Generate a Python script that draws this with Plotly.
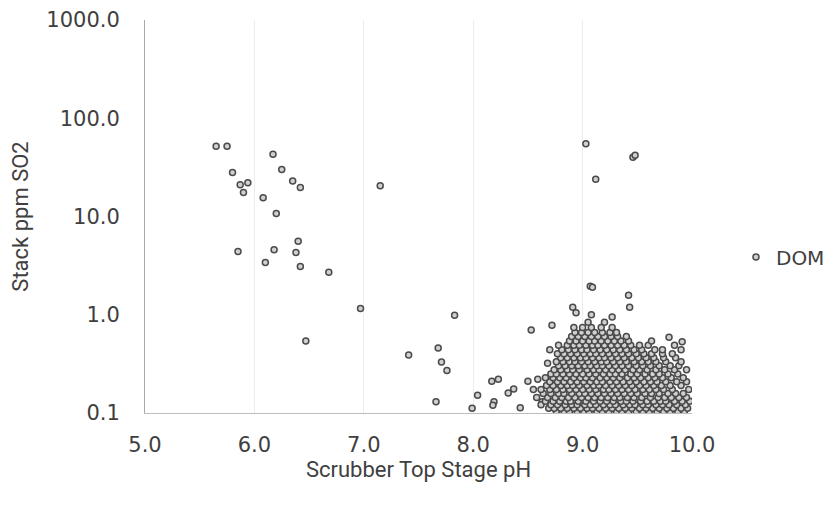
import plotly.graph_objects as go

# Isolated points (pH, ppm SO2)
outlier_ph = [5.65, 5.75, 6.17, 5.80, 6.25, 5.87, 5.94, 5.90, 6.35, 6.42, 6.08, 6.20, 7.15,
              6.40, 5.85, 6.18, 6.38, 6.10, 6.42, 6.68, 6.97, 6.47, 7.41, 7.83, 7.68, 7.71,
              7.76, 7.66, 7.99, 8.04, 8.17, 8.23, 8.19, 8.18, 8.32, 8.37, 8.43, 8.53, 8.50,
              8.59, 9.03, 9.12, 9.46, 9.48, 9.07, 9.09, 9.42, 9.43, 8.91, 8.94, 9.08, 9.27,
              8.72, 8.68, 9.79, 9.91, 8.63]
outlier_so2 = [52, 52, 43, 28, 30, 21, 22, 17.5, 23, 19.7, 15.5, 10.7, 20.6,
               5.6, 4.4, 4.6, 4.3, 3.4, 3.1, 2.7, 1.16, 0.54, 0.39, 0.99, 0.46, 0.33,
               0.27, 0.13, 0.112, 0.152, 0.21, 0.22, 0.13, 0.12, 0.16, 0.175, 0.113, 0.70, 0.21,
               0.22, 55, 24, 40, 42, 1.95, 1.9, 1.58, 1.19, 1.19, 1.05, 1.0, 0.95,
               0.78, 0.32, 0.59, 0.53, 0.13]

# Dense cluster, estimated row by row: (ppm SO2, list of pH values)
cluster_rows = [
    (0.104, [8.76, 8.83, 8.88, 8.95, 9.01, 9.06, 9.13, 9.18, 9.24, 9.31, 9.36, 9.42, 9.49, 9.55, 9.61, 9.68, 9.74, 9.80, 9.87, 9.93]),
    (0.112, [8.69, 8.74, 8.80, 8.86, 8.92, 8.98, 9.04, 9.09, 9.15, 9.21, 9.27, 9.33, 9.39, 9.45, 9.52, 9.58, 9.64, 9.70, 9.77, 9.83, 9.90, 9.96]),
    (0.121, [8.62, 8.71, 8.77, 8.84, 8.90, 8.95, 9.02, 9.07, 9.12, 9.19, 9.25, 9.30, 9.37, 9.43, 9.48, 9.55, 9.60, 9.67, 9.73, 9.79, 9.86, 9.94]),
    (0.132, [8.66, 8.73, 8.79, 8.85, 8.89, 8.96, 9.03, 9.10, 9.16, 9.22, 9.28, 9.35, 9.40, 9.46, 9.53, 9.59, 9.65, 9.71, 9.76, 9.84, 9.91, 9.98]),
    (0.144, [8.58, 8.68, 8.75, 8.81, 8.87, 8.93, 8.99, 9.05, 9.11, 9.17, 9.23, 9.29, 9.34, 9.41, 9.47, 9.54, 9.62, 9.69, 9.75, 9.81, 9.88, 9.95]),
    (0.158, [8.64, 8.71, 8.78, 8.83, 8.90, 8.97, 9.02, 9.08, 9.14, 9.20, 9.26, 9.32, 9.38, 9.44, 9.50, 9.57, 9.63, 9.70, 9.78, 9.85, 9.92]),
    (0.173, [8.55, 8.62, 8.70, 8.76, 8.82, 8.88, 8.94, 9.00, 9.06, 9.12, 9.19, 9.24, 9.30, 9.36, 9.42, 9.48, 9.55, 9.61, 9.67, 9.74, 9.82, 9.97]),
    (0.190, [8.67, 8.73, 8.80, 8.86, 8.91, 8.97, 9.04, 9.10, 9.15, 9.21, 9.27, 9.33, 9.39, 9.45, 9.52, 9.58, 9.65, 9.72, 9.80, 9.90]),
    (0.208, [8.70, 8.77, 8.83, 8.89, 8.95, 9.01, 9.07, 9.13, 9.18, 9.25, 9.31, 9.37, 9.43, 9.49, 9.56, 9.62, 9.68, 9.76, 9.86, 9.95]),
    (0.228, [8.66, 8.73, 8.79, 8.85, 8.92, 8.98, 9.03, 9.09, 9.16, 9.22, 9.28, 9.34, 9.41, 9.47, 9.53, 9.60, 9.66, 9.73, 9.81, 9.92]),
    (0.250, [8.71, 8.76, 8.82, 8.88, 8.94, 9.00, 9.06, 9.12, 9.19, 9.25, 9.30, 9.36, 9.44, 9.50, 9.57, 9.64, 9.70, 9.78, 9.87]),
    (0.275, [8.74, 8.80, 8.86, 8.91, 8.97, 9.04, 9.10, 9.15, 9.21, 9.27, 9.33, 9.39, 9.46, 9.52, 9.59, 9.67, 9.75, 9.84, 9.95]),
    (0.302, [8.78, 8.84, 8.90, 8.96, 9.02, 9.07, 9.13, 9.18, 9.24, 9.30, 9.36, 9.42, 9.49, 9.55, 9.62, 9.70, 9.80, 9.88]),
    (0.333, [8.76, 8.82, 8.88, 8.93, 8.99, 9.05, 9.11, 9.17, 9.22, 9.28, 9.34, 9.40, 9.47, 9.54, 9.60, 9.67, 9.76, 9.90]),
    (0.366, [8.80, 8.86, 8.92, 8.98, 9.03, 9.09, 9.15, 9.20, 9.26, 9.32, 9.38, 9.45, 9.51, 9.58, 9.65, 9.74, 9.85]),
    (0.400, [8.77, 8.83, 8.89, 8.95, 9.01, 9.07, 9.12, 9.18, 9.24, 9.30, 9.36, 9.42, 9.49, 9.56, 9.63, 9.73, 9.82]),
    (0.440, [8.70, 8.81, 8.87, 8.93, 8.99, 9.04, 9.10, 9.16, 9.22, 9.28, 9.34, 9.40, 9.47, 9.54, 9.66, 9.73, 9.90]),
    (0.490, [8.78, 8.86, 8.92, 8.97, 9.03, 9.09, 9.14, 9.20, 9.26, 9.32, 9.38, 9.44, 9.52, 9.60, 9.84]),
    (0.540, [8.88, 8.94, 9.00, 9.06, 9.11, 9.17, 9.23, 9.29, 9.35, 9.42, 9.63]),
    (0.600, [8.90, 8.96, 9.02, 9.08, 9.14, 9.20, 9.26, 9.32, 9.40]),
    (0.660, [8.93, 8.99, 9.05, 9.11, 9.18, 9.25, 9.31]),
    (0.740, [8.92, 9.00, 9.08, 9.17, 9.27]),
    (0.840, [9.05, 9.20]),
]

x_ticks = [5, 6, 7, 8, 9, 10]
x_tick_labels = ["5.0", "6.0", "7.0", "8.0", "9.0", "10.0"]
y_ticks = [0.1, 1, 10, 100, 1000]
y_tick_labels = ["0.1", "1.0", "10.0", "100.0", "1000.0"]

xs = list(outlier_ph)
ys = list(outlier_so2)
for yv, row in cluster_rows:
    xs.extend(row)
    ys.extend([yv] * len(row))

fig = go.Figure()
fig.add_trace(go.Scatter(
    x=xs, y=ys, mode="markers", name="DOM",
    marker=dict(symbol="circle", size=6, color="#d0d0d0",
                line=dict(color="#4a4a4a", width=1.5)),
))

tick_font = dict(family="DejaVu Sans, sans-serif", size=21, color="#404040")
title_font = dict(family="Roboto, sans-serif", size=22, color="#404040")

fig.update_layout(
    width=821, height=491,
    margin=dict(l=137, r=137, t=12, b=86),
    paper_bgcolor="white", plot_bgcolor="white",
    font=dict(family="Roboto, sans-serif", color="#404040", size=16),
    showlegend=True,
    legend=dict(xref="container", yref="container", x=0.8867, y=0.493,
                xanchor="left", yanchor="middle",
                font=dict(size=20, color="#404040", family="DejaVu Sans, sans-serif"),
                bgcolor="rgba(0,0,0,0)", itemwidth=30),
    xaxis=dict(range=[5, 10], tickvals=x_ticks, ticktext=x_tick_labels,
               showgrid=True, gridcolor="#ededed", gridwidth=1,
               showline=True, linecolor="#bdbdbd", linewidth=1, zeroline=False,
               ticks="", ticklabelstandoff=13, automargin=False,
               tickfont=tick_font,
               title=dict(text="Scrubber Top Stage pH", font=title_font, standoff=4)),
    yaxis=dict(type="log", range=[-1, 3], tickvals=y_ticks, ticktext=y_tick_labels,
               showgrid=False, showline=True, linecolor="#a8a8a8", linewidth=1,
               zeroline=False, ticks="", ticklabelstandoff=20, automargin=False,
               tickfont=tick_font,
               title=dict(text="Stack ppm SO2", font=title_font, standoff=22)),
)

fig.write_html("out.html")
